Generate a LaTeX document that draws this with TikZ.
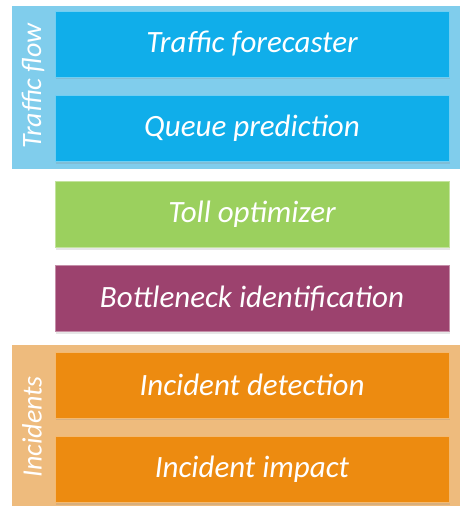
\documentclass[tikz,border=0pt]{standalone}
\usepackage{fontspec}
\setmainfont{Carlito}
\usetikzlibrary{positioning,shadows}

\definecolor{flowblue}{HTML}{10AEEA}
\definecolor{flowlight}{HTML}{80CDEC}
\definecolor{tollgreen}{HTML}{9BD05E}
\definecolor{neckpurple}{HTML}{9C426E}
\definecolor{incorange}{HTML}{ED8B10}
\definecolor{inclight}{HTML}{EEBB7D}

\tikzset{
  module/.style={minimum width=394pt, minimum height=66pt, inner sep=0pt,
    text=white, font=\fontsize{31}{34}\selectfont\itshape,
    drop shadow={opacity=0.2, shadow xshift=1pt, shadow yshift=-2pt}},
  grouplabel/.style={rotate=90, text=white, font=\fontsize{28}{30}\selectfont\itshape}
}

\begin{document}
\begin{tikzpicture}[x=1pt, y=-1pt]
  \useasboundingbox (0,0) rectangle (466,506);

  % group frames
  \fill[flowlight] (12,6) rectangle (460,169);
  \fill[inclight] (12,345) rectangle (460,506);

  \node[module, fill=flowblue, draw=flowblue!60!white] (forecast) at (252,44) {Traffic forecaster};
  \node[module, fill=flowblue, draw=flowblue!60!white] (queue) at (252,128.5) {Queue prediction};

  \node[module, fill=tollgreen, draw=tollgreen!60!white] (toll) at (252,214.5) {Toll optimizer};
  \node[module, fill=neckpurple, draw=neckpurple!60!white] (neck) at (252,298.5) {Bottleneck identification};

  \node[module, fill=incorange, draw=incorange!60!white] (detect) at (252,385) {Incident detection};
  \node[module, fill=incorange, draw=incorange!60!white] (impact) at (252,469.5) {Incident impact};

  \node[grouplabel] (flowlab) at (33,86) {Traffic flow};
  \node[grouplabel] (inclab) at (32,427) {Incidents};
\end{tikzpicture}
\end{document}
